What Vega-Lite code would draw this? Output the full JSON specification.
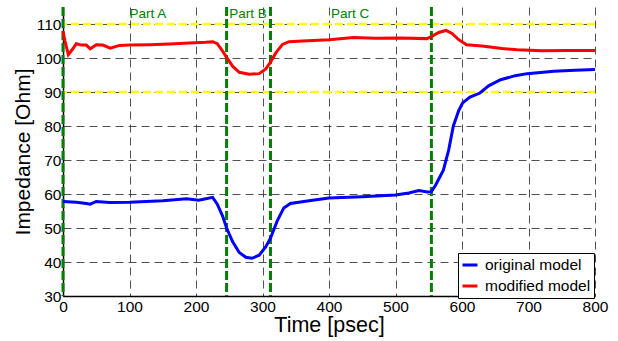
{
  "$schema": "https://vega.github.io/schema/vega-lite/v6.json",
  "width": 532,
  "height": 289,
  "autosize": {"type": "none"},
  "padding": {"left": 63, "top": 7, "right": 23, "bottom": 45},
  "background": "white",
  "config": {
    "view": {"stroke": null},
    "font": "Liberation Sans",
    "axis": {"labelFont": "Liberation Sans", "titleFont": "Liberation Sans"},
    "legend": {"labelFont": "Liberation Sans"},
    "text": {"font": "Liberation Sans"},
    "axisY": {
      "titleFontSize": 21, "titleFontWeight": "normal", "titleColor": "black", "titlePadding": 2,
      "labelFontSize": 15.5, "labelColor": "black", "labelPadding": 2,
      "labelOverlap": false, "labelFlush": false,
      "ticks": false, "domainColor": "black", "domainWidth": 1.5,
      "grid": true, "gridColor": "#333333", "gridDash": [8, 5], "gridWidth": 1, "gridOpacity": 0.85
    },
    "axisX": {
      "titleFontSize": 21.5, "titleFontWeight": "normal", "titleColor": "black", "titlePadding": 0,
      "labelFontSize": 15.5, "labelColor": "black", "labelPadding": 3,
      "labelOverlap": false, "labelFlush": false,
      "ticks": false, "domainColor": "black", "domainWidth": 1.5,
      "grid": true, "gridColor": "#333333", "gridDash": [8, 5], "gridWidth": 1, "gridOpacity": 0.85
    }
  },
  "datasets": {
    "curves": [
      {"t": 0, "z": 107.8, "model": "modified model"},
      {"t": 3, "z": 105, "model": "modified model"},
      {"t": 8, "z": 101, "model": "modified model"},
      {"t": 14, "z": 102.5, "model": "modified model"},
      {"t": 20, "z": 104.2, "model": "modified model"},
      {"t": 28, "z": 103.8, "model": "modified model"},
      {"t": 35, "z": 103.8, "model": "modified model"},
      {"t": 41, "z": 102.7, "model": "modified model"},
      {"t": 50, "z": 103.9, "model": "modified model"},
      {"t": 60, "z": 103.8, "model": "modified model"},
      {"t": 71, "z": 102.9, "model": "modified model"},
      {"t": 85, "z": 103.7, "model": "modified model"},
      {"t": 100, "z": 103.8, "model": "modified model"},
      {"t": 130, "z": 103.9, "model": "modified model"},
      {"t": 160, "z": 104.1, "model": "modified model"},
      {"t": 190, "z": 104.4, "model": "modified model"},
      {"t": 215, "z": 104.6, "model": "modified model"},
      {"t": 225, "z": 104.8, "model": "modified model"},
      {"t": 232, "z": 104.2, "model": "modified model"},
      {"t": 240, "z": 102, "model": "modified model"},
      {"t": 246, "z": 100.2, "model": "modified model"},
      {"t": 255, "z": 97.6, "model": "modified model"},
      {"t": 265, "z": 95.8, "model": "modified model"},
      {"t": 280, "z": 95.2, "model": "modified model"},
      {"t": 295, "z": 95.4, "model": "modified model"},
      {"t": 305, "z": 96.8, "model": "modified model"},
      {"t": 312, "z": 98.8, "model": "modified model"},
      {"t": 320, "z": 101.5, "model": "modified model"},
      {"t": 330, "z": 104, "model": "modified model"},
      {"t": 340, "z": 104.8, "model": "modified model"},
      {"t": 360, "z": 105, "model": "modified model"},
      {"t": 400, "z": 105.4, "model": "modified model"},
      {"t": 437, "z": 106, "model": "modified model"},
      {"t": 470, "z": 105.8, "model": "modified model"},
      {"t": 507, "z": 105.9, "model": "modified model"},
      {"t": 547, "z": 105.7, "model": "modified model"},
      {"t": 554, "z": 106.3, "model": "modified model"},
      {"t": 565, "z": 107.5, "model": "modified model"},
      {"t": 576, "z": 108.1, "model": "modified model"},
      {"t": 585, "z": 107.2, "model": "modified model"},
      {"t": 595, "z": 105.4, "model": "modified model"},
      {"t": 607, "z": 103.9, "model": "modified model"},
      {"t": 630, "z": 103.5, "model": "modified model"},
      {"t": 660, "z": 102.8, "model": "modified model"},
      {"t": 683, "z": 102.4, "model": "modified model"},
      {"t": 720, "z": 102.1, "model": "modified model"},
      {"t": 760, "z": 102.2, "model": "modified model"},
      {"t": 800, "z": 102.2, "model": "modified model"},
      {"t": 0, "z": 57.8, "model": "original model"},
      {"t": 20, "z": 57.6, "model": "original model"},
      {"t": 35, "z": 57.2, "model": "original model"},
      {"t": 41, "z": 57, "model": "original model"},
      {"t": 50, "z": 57.8, "model": "original model"},
      {"t": 70, "z": 57.5, "model": "original model"},
      {"t": 100, "z": 57.6, "model": "original model"},
      {"t": 150, "z": 58, "model": "original model"},
      {"t": 186, "z": 58.6, "model": "original model"},
      {"t": 204, "z": 58.2, "model": "original model"},
      {"t": 215, "z": 58.6, "model": "original model"},
      {"t": 225, "z": 59, "model": "original model"},
      {"t": 232, "z": 57, "model": "original model"},
      {"t": 240, "z": 53.5, "model": "original model"},
      {"t": 246, "z": 50, "model": "original model"},
      {"t": 255, "z": 46, "model": "original model"},
      {"t": 265, "z": 42.8, "model": "original model"},
      {"t": 275, "z": 41.4, "model": "original model"},
      {"t": 284, "z": 41.1, "model": "original model"},
      {"t": 295, "z": 42, "model": "original model"},
      {"t": 305, "z": 44.5, "model": "original model"},
      {"t": 312, "z": 47, "model": "original model"},
      {"t": 322, "z": 52, "model": "original model"},
      {"t": 332, "z": 55.9, "model": "original model"},
      {"t": 342, "z": 57.2, "model": "original model"},
      {"t": 370, "z": 58, "model": "original model"},
      {"t": 400, "z": 58.8, "model": "original model"},
      {"t": 450, "z": 59.2, "model": "original model"},
      {"t": 500, "z": 59.7, "model": "original model"},
      {"t": 520, "z": 60.3, "model": "original model"},
      {"t": 535, "z": 61, "model": "original model"},
      {"t": 548, "z": 60.6, "model": "original model"},
      {"t": 554, "z": 60.7, "model": "original model"},
      {"t": 560, "z": 62.5, "model": "original model"},
      {"t": 572, "z": 67, "model": "original model"},
      {"t": 580, "z": 73, "model": "original model"},
      {"t": 587, "z": 80, "model": "original model"},
      {"t": 595, "z": 84.5, "model": "original model"},
      {"t": 601, "z": 86.8, "model": "original model"},
      {"t": 612, "z": 88.5, "model": "original model"},
      {"t": 627, "z": 89.7, "model": "original model"},
      {"t": 640, "z": 91.8, "model": "original model"},
      {"t": 658, "z": 93.6, "model": "original model"},
      {"t": 680, "z": 94.8, "model": "original model"},
      {"t": 698, "z": 95.4, "model": "original model"},
      {"t": 738, "z": 96.1, "model": "original model"},
      {"t": 770, "z": 96.4, "model": "original model"},
      {"t": 800, "z": 96.6, "model": "original model"}
    ],
    "limits": [{"z": 90}, {"z": 110}],
    "bounds": [{"t": 0}, {"t": 246}, {"t": 312}, {"t": 554}],
    "parts": [
      {"t": 100, "z": 112.8, "label": "Part A"},
      {"t": 250, "z": 112.8, "label": "Part B"},
      {"t": 403, "z": 112.8, "label": "Part C"}
    ]
  },
  "layer": [
    {
      "data": {"name": "limits"},
      "mark": {"type": "rule", "color": "#ffff00", "strokeWidth": 2.5, "strokeDash": [8, 4]},
      "encoding": {
        "y": {
          "field": "z", "type": "quantitative",
          "scale": {"domain": [30, 115], "nice": false, "zero": false},
          "axis": {"title": "Impedance [Ohm]", "values": [30, 40, 50, 60, 70, 80, 90, 100, 110]}
        }
      }
    },
    {
      "data": {"name": "bounds"},
      "mark": {"type": "rule", "color": "#007f00", "strokeWidth": 3, "strokeDash": [9, 3]},
      "encoding": {
        "x": {
          "field": "t", "type": "quantitative",
          "scale": {"domain": [0, 800], "nice": false},
          "axis": {"title": "Time [psec]", "values": [0, 100, 200, 300, 400, 500, 600, 700, 800]}
        }
      }
    },
    {
      "data": {"name": "curves"},
      "mark": {"type": "line", "strokeWidth": 3},
      "encoding": {
        "x": {"field": "t", "type": "quantitative",
          "axis": {"title": "Time [psec]", "values": [0, 100, 200, 300, 400, 500, 600, 700, 800]}},
        "y": {"field": "z", "type": "quantitative",
          "axis": {"title": "Impedance [Ohm]", "values": [30, 40, 50, 60, 70, 80, 90, 100, 110]}},
        "color": {
          "field": "model", "type": "nominal",
          "scale": {"domain": ["original model", "modified model"], "range": ["#0000ff", "#ff0000"]},
          "legend": {
            "title": null,
            "orient": "none", "legendX": 395, "legendY": 246,
            "symbolType": "stroke", "symbolStrokeWidth": 3, "symbolSize": 225,
            "labelFontSize": 15.5, "labelColor": "black", "labelOffset": 6,
            "strokeColor": "black", "fillColor": "white",
            "padding": 3, "rowPadding": 3,
            "labelLimit": 200
          }
        }
      }
    },
    {
      "data": {"name": "parts"},
      "mark": {"type": "text", "align": "left", "baseline": "middle", "fontSize": 13.5, "color": "#008000", "font": "Liberation Sans"},
      "encoding": {
        "x": {"field": "t", "type": "quantitative",
          "axis": {"title": "Time [psec]", "values": [0, 100, 200, 300, 400, 500, 600, 700, 800]}},
        "y": {"field": "z", "type": "quantitative",
          "axis": {"title": "Impedance [Ohm]", "values": [30, 40, 50, 60, 70, 80, 90, 100, 110]}},
        "text": {"field": "label"}
      }
    }
  ]
}
